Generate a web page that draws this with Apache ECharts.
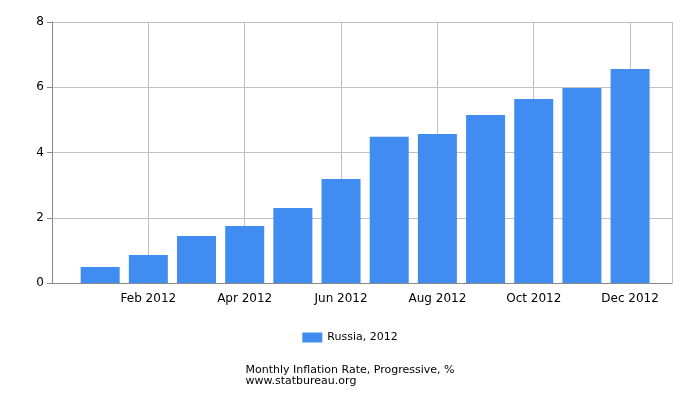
<!DOCTYPE html>
<html><head><meta charset="utf-8">
<script src="https://cdn.jsdelivr.net/npm/echarts@6/dist/echarts.min.js"></script>
<style>body{margin:0}#c{width:700px;height:400px}</style></head>
<body><div id="c"></div>
<script>
const months = ['Jan','Feb','Mar','Apr','May','Jun','Jul','Aug','Sep','Oct','Nov','Dec'];
const values = [0.49, 0.86, 1.44, 1.75, 2.3, 3.19, 4.48, 4.57, 5.15, 5.64, 5.98, 6.56];
const seriesName = 'Russia, 2012';
const year = '2012';
const chart = echarts.init(document.getElementById('c'));
chart.setOption({
  animation:false,
  grid:{left:52,right:28,top:22,bottom:117},
  legend:{bottom:52,left:'center',itemWidth:20,itemHeight:10,icon:'rect',
    textStyle:{fontFamily:'DejaVu Sans',fontSize:11,color:'#000'}},
  graphic:[{type:'text',left:'center',top:365,style:{text:'Monthly Inflation Rate, Progressive, %\nwww.statbureau.org',
    align:'center',font:'11px DejaVu Sans',fill:'#000',lineHeight:11}}],
  xAxis:{type:'value',min:0,max:12.87,interval:2,
    axisLine:{show:true,lineStyle:{color:'#888'}},axisTick:{show:false},
    splitLine:{show:true,lineStyle:{color:'#c0c0c0'}},
    axisLabel:{showMaxLabel:false,fontFamily:'DejaVu Sans',fontSize:12,color:'#000',margin:10,
      formatter:v=>v>=1&&v<=12?months[v-1]+' '+year:''}},
  yAxis:{type:'value',min:0,max:8,interval:2,
    axisLine:{show:true,lineStyle:{color:'#888'}},axisTick:{show:true,length:5,lineStyle:{color:'#888'}},
    splitLine:{lineStyle:{color:'#c0c0c0'}},
    axisLabel:{fontFamily:'DejaVu Sans',fontSize:12,color:'#000',margin:8}},
  series:[{name:seriesName,type:'bar',barWidth:39,itemStyle:{color:'#418cf0'},
    data:values.map((v,i)=>[i+1,v])}]
});
</script></body></html>
